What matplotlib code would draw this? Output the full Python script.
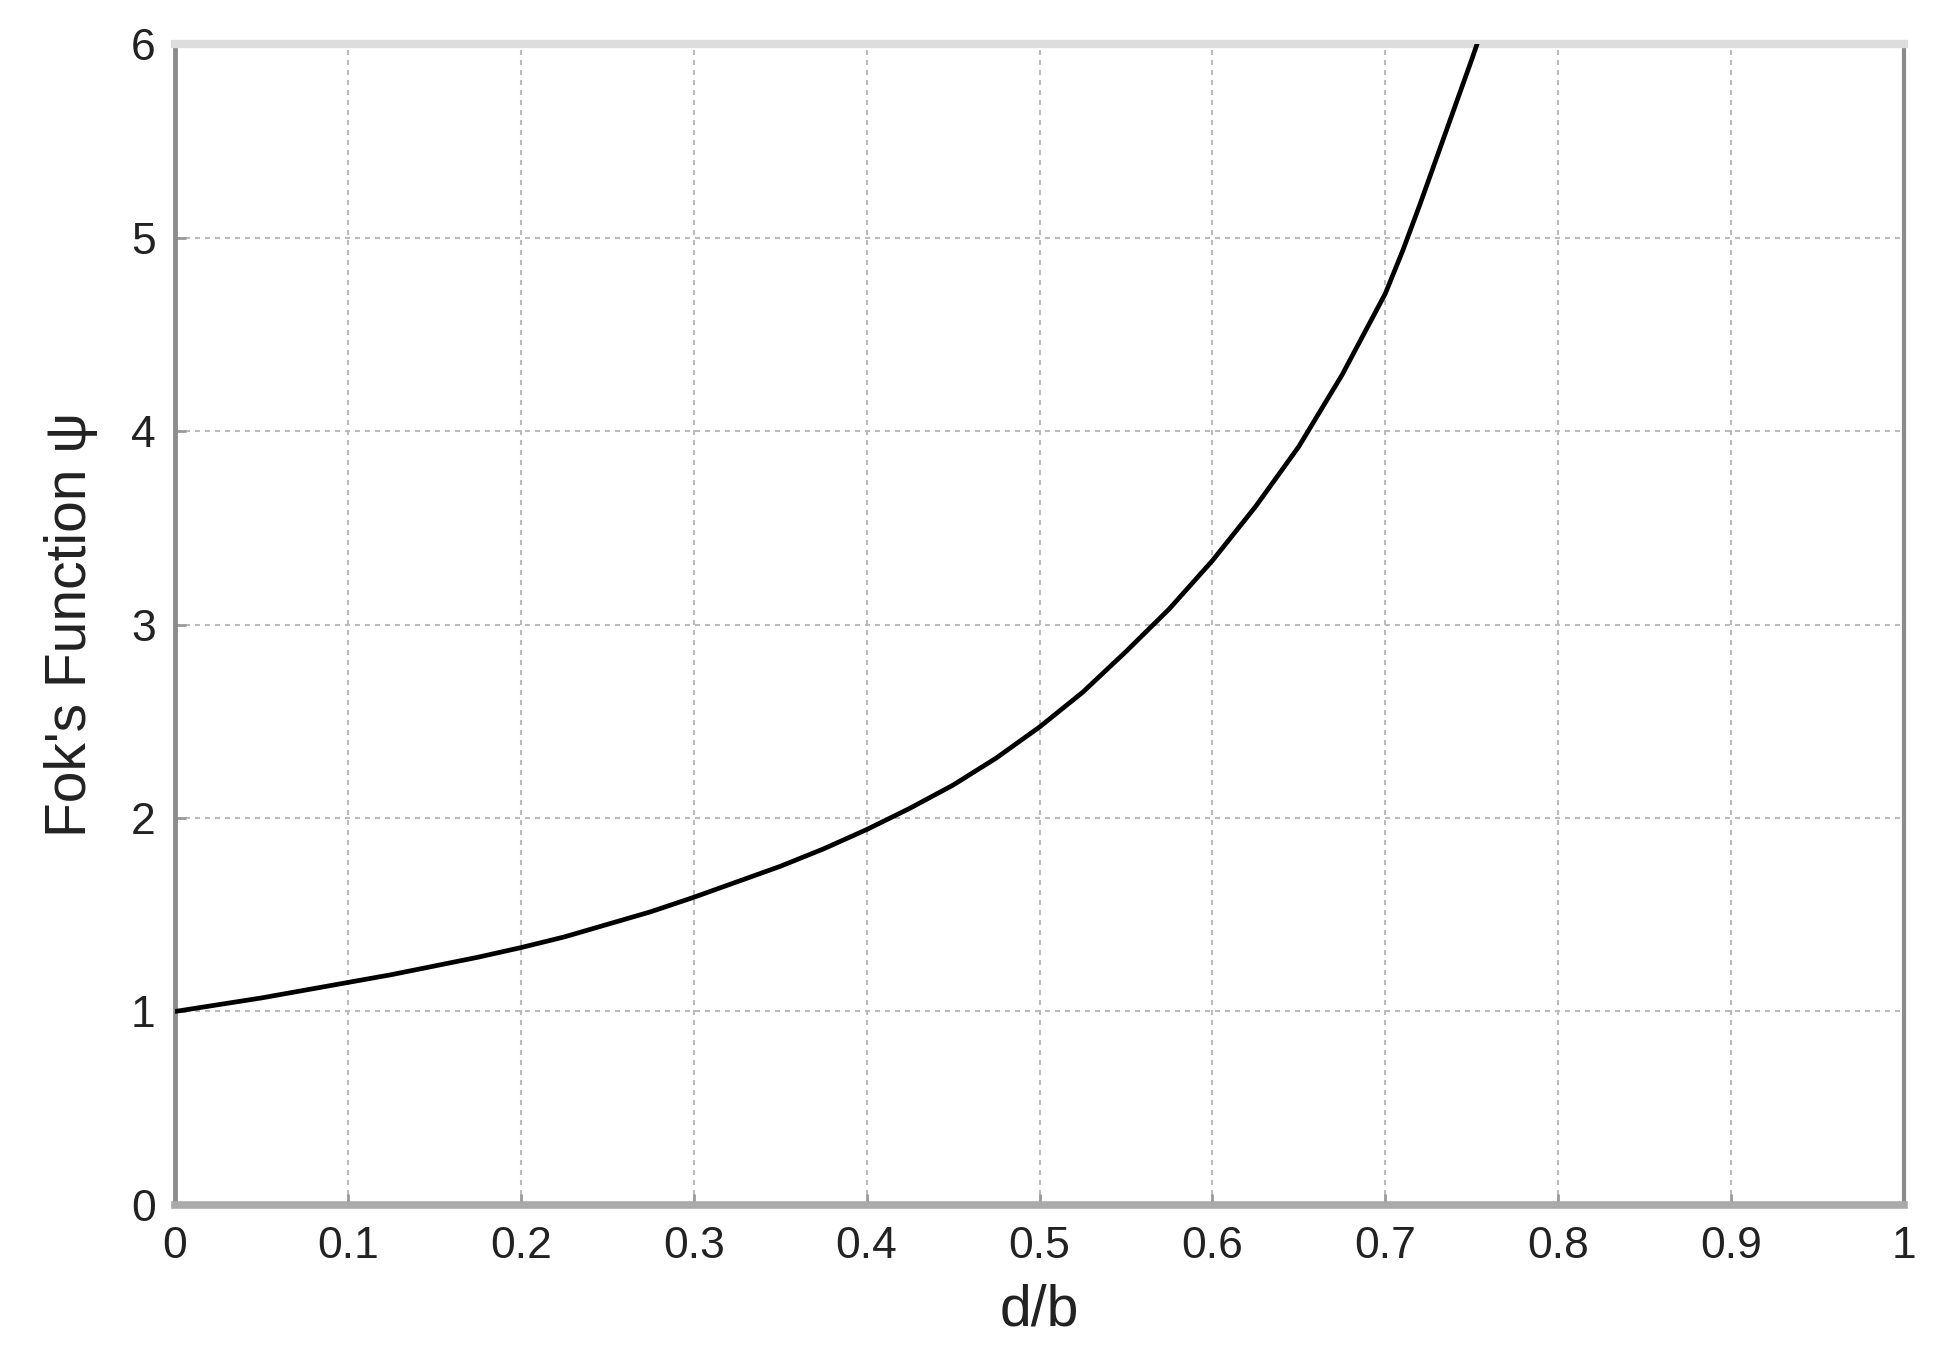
import matplotlib
matplotlib.use('Agg')
import matplotlib.pyplot as plt

# Fok's function
d_over_b = [0.0, 0.025, 0.05, 0.075, 0.1, 0.125, 0.15, 0.175, 0.2, 0.225,
            0.25, 0.275, 0.3, 0.325, 0.35, 0.375, 0.4, 0.425, 0.45, 0.475,
            0.5, 0.525, 0.55, 0.575, 0.6, 0.625, 0.65, 0.675, 0.7, 0.71,
            0.72, 0.73, 0.74, 0.75, 0.755]
psi = [1.0, 1.035, 1.07, 1.11, 1.15, 1.19, 1.235, 1.28, 1.33, 1.385,
       1.45, 1.515, 1.59, 1.67, 1.75, 1.84, 1.94, 2.05, 2.17, 2.31,
       2.47, 2.65, 2.86, 3.08, 3.33, 3.61, 3.92, 4.29, 4.71, 4.93,
       5.17, 5.42, 5.67, 5.92, 6.05]

x_ticks = [0, 0.1, 0.2, 0.3, 0.4, 0.5, 0.6, 0.7, 0.8, 0.9, 1]
x_tick_labels = ['0', '0.1', '0.2', '0.3', '0.4', '0.5', '0.6', '0.7', '0.8', '0.9', '1']
y_ticks = [0, 1, 2, 3, 4, 5, 6]

plt.rcParams['font.family'] = ['Liberation Sans', 'DejaVu Sans']

fig = plt.figure(figsize=(19.58, 13.64), dpi=100)
ax = fig.add_axes([0.0894, 0.1166, 0.883, 0.8511])

ax.plot(d_over_b, psi, color='black', linewidth=3.4, solid_joinstyle='round', zorder=3)

ax.set_xlim(0, 1)
ax.set_ylim(0, 6)
ax.set_xticks(x_ticks)
ax.set_xticklabels(x_tick_labels)
ax.set_yticks(y_ticks)
ax.tick_params(direction='in', length=8, width=2, color='#999999',
               labelsize=32, labelcolor='#222222')
ax.tick_params(axis='x', pad=15)
ax.tick_params(axis='y', pad=14)

ax.grid(True, color='#bbbbbb', linestyle=(0, (2.4, 2.4)), linewidth=1.5)

ax.spines['left'].set_color('#8c8c8c')
ax.spines['left'].set_linewidth(3.5)
ax.spines['right'].set_color('#8c8c8c')
ax.spines['right'].set_linewidth(3.0)
ax.spines['bottom'].set_color('#aaaaaa')
ax.spines['bottom'].set_linewidth(5.5)
ax.spines['top'].set_color('#dddddd')
ax.spines['top'].set_linewidth(6.0)

ax.set_xlabel('d/b', fontsize=41, color='#222222', labelpad=12)
ax.set_ylabel("Fok's Function \u03c8", fontsize=41, color='#222222', labelpad=24)

fig.savefig('out.png', dpi=100, facecolor='white')
